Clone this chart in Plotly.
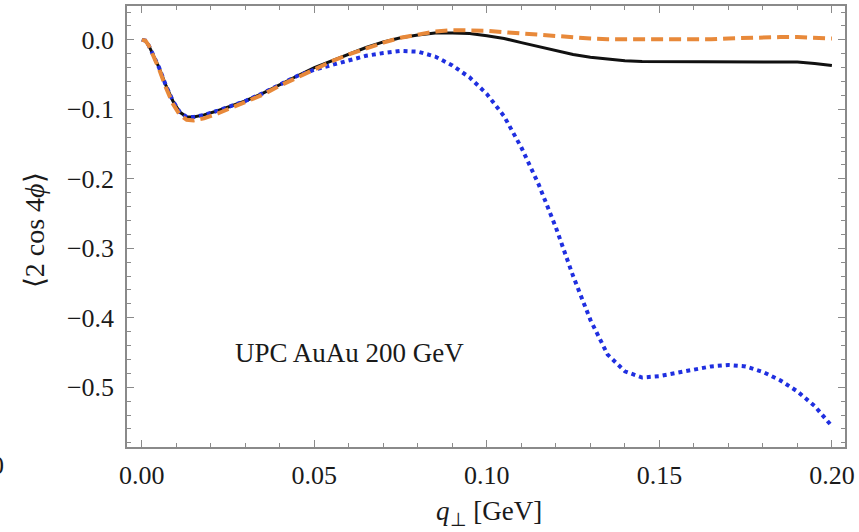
import plotly.graph_objects as go

q = [0.0, 0.001, 0.002, 0.003, 0.005, 0.007, 0.009, 0.011, 0.013, 0.015, 0.018, 0.022,
     0.026, 0.03, 0.035, 0.04, 0.045, 0.05, 0.055, 0.06, 0.065, 0.07, 0.075, 0.08,
     0.085, 0.09, 0.095, 0.10, 0.105, 0.11, 0.115, 0.12, 0.125, 0.13, 0.135, 0.14,
     0.145, 0.15, 0.155, 0.16, 0.165, 0.17, 0.175, 0.18, 0.185, 0.19, 0.195, 0.20]

black = [0.0, -0.001, -0.008, -0.018, -0.040, -0.066, -0.088, -0.104, -0.111, -0.111, -0.108, -0.102,
         -0.095, -0.088, -0.077, -0.064, -0.052, -0.040, -0.030, -0.020, -0.011, -0.003, 0.003, 0.007,
         0.010, 0.010, 0.009, 0.006, 0.002, -0.004, -0.010, -0.016, -0.021, -0.025, -0.028, -0.030,
         -0.031, -0.031, -0.031, -0.031, -0.031, -0.031, -0.031, -0.031, -0.031, -0.032, -0.034, -0.037]

orange = [0.0, -0.001, -0.008, -0.019, -0.042, -0.069, -0.092, -0.108, -0.115, -0.116, -0.113, -0.106,
          -0.098, -0.090, -0.079, -0.066, -0.054, -0.042, -0.031, -0.021, -0.012, -0.004, 0.003, 0.008,
          0.012, 0.014, 0.014, 0.013, 0.011, 0.009, 0.007, 0.005, 0.004, 0.002, 0.001, 0.001,
          0.000, 0.000, 0.000, 0.000, 0.001, 0.002, 0.003, 0.004, 0.004, 0.004, 0.003, 0.002]

blue = [0.0, -0.001, -0.008, -0.018, -0.040, -0.066, -0.088, -0.104, -0.111, -0.111, -0.108, -0.102,
        -0.095, -0.088, -0.077, -0.064, -0.052, -0.043, -0.036, -0.029, -0.023, -0.019, -0.016, -0.017,
        -0.024, -0.037, -0.054, -0.078, -0.110, -0.155, -0.208, -0.270, -0.340, -0.403, -0.453, -0.477,
        -0.486, -0.484, -0.479, -0.474, -0.470, -0.468, -0.470, -0.478, -0.490, -0.506, -0.527, -0.556]

x_ticks = [0.0, 0.05, 0.10, 0.15, 0.20]
y_ticks = [0.0, -0.1, -0.2, -0.3, -0.4, -0.5]

SERIF = "Liberation Serif, Times New Roman, serif"
TXT = "#1a1a1a"

fig = go.Figure()
fig.add_trace(go.Scatter(x=q, y=black, mode="lines", line=dict(color="#111111", width=3), showlegend=False))
fig.add_trace(go.Scatter(x=q, y=blue, mode="lines", line=dict(color="#1f2fe0", width=4, dash="4px,4px"), showlegend=False))
fig.add_trace(go.Scatter(x=q, y=orange, mode="lines", line=dict(color="#e8893a", width=4, dash="12px,6px"), showlegend=False))

axis_common = dict(
    showgrid=False, zeroline=False, showline=True, mirror="allticks",
    linecolor="#8a8a8a", linewidth=1.5, ticks="inside", ticklen=7, tickwidth=1.2,
    tickcolor="#8a8a8a", tickfont=dict(family=SERIF, size=26, color=TXT),
)

fig.update_xaxes(range=[-0.0043, 0.2038], tickvals=x_ticks, ticktext=[f"{v:.2f}" for v in x_ticks],
                 minor=dict(dtick=0.01, tick0=0, ticks="inside", ticklen=4, tickcolor="#8a8a8a", tickwidth=1),
                 ticklabelstandoff=4, **axis_common)
fig.update_yaxes(range=[-0.586, 0.0487], tickvals=y_ticks,
                 ticktext=[("\u2212" if v < 0 else "") + f"{abs(v):.1f}" for v in y_ticks],
                 minor=dict(dtick=0.02, tick0=0, ticks="inside", ticklen=4, tickcolor="#8a8a8a", tickwidth=1),
                 ticklabelstandoff=6, **axis_common)

fig.update_layout(
    width=859, height=532,
    margin=dict(l=127, r=12, t=4, b=85),
    paper_bgcolor="white", plot_bgcolor="white",
    annotations=[
        dict(x=0.0263, y=-0.45, xref="x", yref="y", xanchor="left", yanchor="middle",
             text="UPC AuAu 200 GeV", showarrow=False,
             font=dict(family=SERIF, size=27, color=TXT)),
        dict(x=(490 - 127) / 720, y=-(513 - 447) / 443, xref="paper", yref="paper",
             xanchor="center", yanchor="middle", text="<i>q</i><sub>\u22a5</sub> [GeV]",
             showarrow=False, font=dict(family=SERIF, size=27, color=TXT)),
        dict(x=(35 - 127) / 720, y=(447 - 229) / 443, xref="paper", yref="paper",
             xanchor="center", yanchor="middle", textangle=-90,
             text="\u27e82 cos 4<i>\u03d5</i>\u27e9", showarrow=False,
             font=dict(family=SERIF, size=28, color=TXT)),
        dict(x=(6 - 127) / 720, y=-(466 - 447) / 443, xref="paper", yref="paper",
             xanchor="right", yanchor="middle", text="0", showarrow=False,
             font=dict(family=SERIF, size=26, color=TXT)),
    ],
)

fig.write_html("out.html")
